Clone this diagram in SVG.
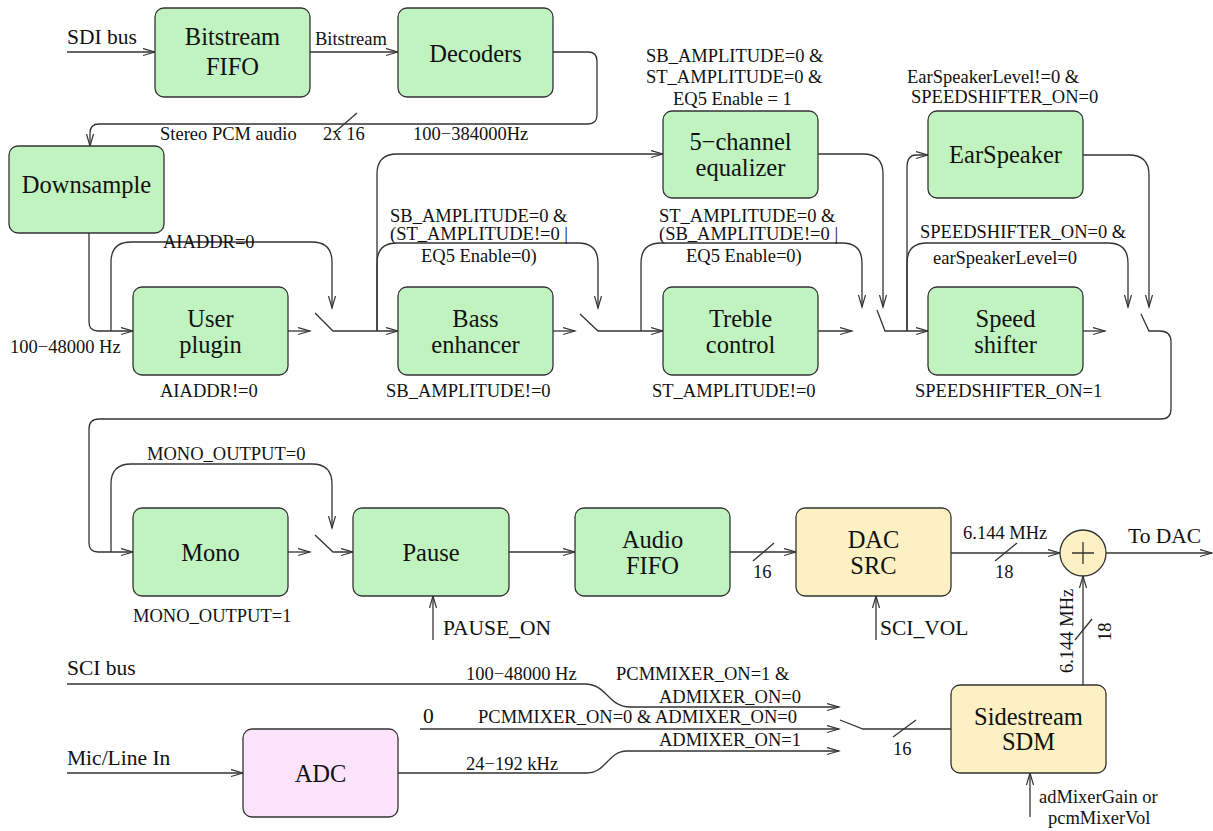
<svg xmlns="http://www.w3.org/2000/svg" width="1213" height="831" viewBox="0 0 1213 831">
<style>
.bx{stroke:#333;stroke-width:1.3}
.g{fill:#c0f3c0}.y{fill:#fdf1c3}.p{fill:#fde3fc}
.ln{fill:none;stroke:#333;stroke-width:1.3}
.a{marker-end:url(#ar)}
text{font-family:"Liberation Serif","Times New Roman",serif;fill:#111}
.t{font-family:"Liberation Serif","Times New Roman",serif;font-size:24.5px;text-anchor:middle}
.s{font-family:"Liberation Serif","Times New Roman",serif;font-size:18.5px}
.m{font-family:"Liberation Serif","Times New Roman",serif;font-size:21.5px}
</style>
<defs>
<marker id="ar" markerUnits="userSpaceOnUse" markerWidth="14" markerHeight="10" refX="12" refY="4" orient="auto">
<path d="M0,0.5 L12,4 L0,7.5" fill="none" stroke="#333" stroke-width="1.2"/>
</marker>
</defs>
<rect width="1213" height="831" fill="#fff"/>

<g id="connectors">
<path class="ln a" d="M67,52 H155"/>
<path class="ln a" d="M310,52 H398"/>
<path class="ln a" d="M553,52 H588 Q597,52 597,61 V115 Q597,124 588,124 H99 Q90,124 90,133 V146"/>
<path class="ln" d="M335,132 L357,113"/>
<path class="ln a" d="M89,233 V322 Q89,331 98,331 H133"/>
<path class="ln a" d="M111,331 V262 Q111,242 131,242 H312 Q332,242 332,262 V308"/>
<path class="ln a" d="M288,331 H310"/>
<path class="ln a" d="M315,313 L333,331 H398"/>
<path class="ln a" d="M377,331 V174 Q377,154 397,154 H663"/>
<path class="ln a" d="M377,331 V263 Q377,243 397,243 H578 Q598,243 598,263 V308"/>
<path class="ln a" d="M553,331 H575"/>
<path class="ln a" d="M580,314 L598,331 H663"/>
<path class="ln a" d="M641,331 V263 Q641,243 661,243 H842 Q862,243 862,263 V307"/>
<path class="ln a" d="M818,154 H863 Q883,154 883,174 V307"/>
<path class="ln a" d="M818,331 H852"/>
<path class="ln a" d="M877,310 L885,331 H928"/>
<path class="ln a" d="M907,331 V168 Q907,155 916,155 H928"/>
<path class="ln a" d="M907,331 V263 Q907,243 927,243 H1108 Q1128,243 1128,263 V307"/>
<path class="ln a" d="M1083,155 H1129 Q1149,155 1149,175 V307"/>
<path class="ln a" d="M1083,331 H1105"/>
<path class="ln a" d="M1141,314 L1149,331 H1160 Q1171,331 1171,342 V409 Q1171,419 1161,419 H99 Q89,419 89,429 V543 Q89,552 98,552 H133"/>
<path class="ln a" d="M111,552 V484 Q111,464 131,464 H312 Q332,464 332,484 V528"/>
<path class="ln a" d="M288,552 H310"/>
<path class="ln a" d="M315,535 L333,552 H353"/>
<path class="ln a" d="M433,640 V596"/>
<path class="ln a" d="M509,552 H575"/>
<path class="ln a" d="M730,552 H796"/>
<path class="ln" d="M753,561 L774,543"/>
<path class="ln a" d="M951,553 H1060"/>
<path class="ln" d="M995,561 L1017,543"/>
<path class="ln a" d="M1106,553 H1212"/>
<path class="ln a" d="M876,640 V596"/>
<path class="ln a" d="M1083,685 V576"/>
<path class="ln" d="M1075,640 L1092,619"/>
<path class="ln a" d="M1030,817 V773"/>
<path class="ln a" d="M67,684 H585 C607,684 608,707 630,707 H839"/>
<path class="ln a" d="M420,729 H839"/>
<path class="ln a" d="M398,773 H587 C606,773 608,751 627,751 H839"/>
<path class="ln" d="M840,720 L863,729 H951"/>
<path class="ln" d="M893,737 L916,720"/>
<path class="ln a" d="M67,773 H243"/>
</g>

<g id="bitstream-fifo"><rect class="bx g" x="155" y="8" width="155" height="89" rx="9"/>
<text class="t" x="232.5" y="45">Bitstream</text><text class="t" x="232.5" y="75">FIFO</text></g>
<g id="decoders"><rect class="bx g" x="398" y="8" width="155" height="89" rx="9"/>
<text class="t" x="475.5" y="62">Decoders</text></g>
<g id="downsample"><rect class="bx g" x="9" y="146" width="155" height="87" rx="9"/>
<text class="t" x="86.5" y="193">Downsample</text></g>
<g id="user-plugin"><rect class="bx g" x="133" y="287" width="155" height="88" rx="9"/>
<text class="t" x="210.5" y="327">User</text><text class="t" x="210.5" y="353">plugin</text></g>
<g id="bass-enhancer"><rect class="bx g" x="398" y="287" width="155" height="88" rx="9"/>
<text class="t" x="475.5" y="327">Bass</text><text class="t" x="475.5" y="353">enhancer</text></g>
<g id="equalizer"><rect class="bx g" x="663" y="111" width="155" height="87" rx="9"/>
<text class="t" x="740.5" y="150">5−channel</text><text class="t" x="740.5" y="176">equalizer</text></g>
<g id="treble-control"><rect class="bx g" x="663" y="287" width="155" height="88" rx="9"/>
<text class="t" x="740.5" y="327">Treble</text><text class="t" x="740.5" y="353">control</text></g>
<g id="earspeaker"><rect class="bx g" x="928" y="111" width="155" height="87" rx="9"/>
<text class="t" x="1005.5" y="163">EarSpeaker</text></g>
<g id="speed-shifter"><rect class="bx g" x="928" y="287" width="155" height="88" rx="9"/>
<text class="t" x="1005.5" y="327">Speed</text><text class="t" x="1005.5" y="353">shifter</text></g>
<g id="mono"><rect class="bx g" x="133" y="508" width="155" height="88" rx="9"/>
<text class="t" x="210.5" y="561">Mono</text></g>
<g id="pause"><rect class="bx g" x="353" y="508" width="156" height="88" rx="9"/>
<text class="t" x="431" y="561">Pause</text></g>
<g id="audio-fifo"><rect class="bx g" x="575" y="508" width="155" height="88" rx="9"/>
<text class="t" x="652.5" y="548">Audio</text><text class="t" x="652.5" y="574">FIFO</text></g>
<g id="dac-src"><rect class="bx y" x="796" y="508" width="155" height="88" rx="9"/>
<text class="t" x="873.5" y="548">DAC</text><text class="t" x="873.5" y="574">SRC</text></g>
<g id="adder"><circle class="bx y" cx="1083" cy="553" r="23"/>
<path class="ln" d="M1072,553 H1094 M1083,542 V564"/></g>
<g id="sidestream-sdm"><rect class="bx y" x="951" y="685" width="155" height="88" rx="9"/>
<text class="t" x="1028.5" y="725">Sidestream</text><text class="t" x="1028.5" y="750">SDM</text></g>
<g id="adc"><rect class="bx p" x="243" y="729" width="155" height="88" rx="9"/>
<text class="t" x="320.5" y="782">ADC</text></g>

<g id="labels">
<text class="m" x="67" y="44">SDI bus</text>
<text class="s" x="315" y="45">Bitstream</text>
<text class="s" x="160" y="140">Stereo PCM audio</text>
<text class="s" x="323" y="140">2x 16</text>
<text class="s" x="413" y="140">100−384000Hz</text>
<text class="s" x="646" y="62">SB_AMPLITUDE=0 &amp;</text>
<text class="s" x="646" y="83">ST_AMPLITUDE=0 &amp;</text>
<text class="s" x="673" y="105">EQ5 Enable = 1</text>
<text class="s" x="907" y="83">EarSpeakerLevel!=0 &amp;</text>
<text class="s" x="911" y="103">SPEEDSHIFTER_ON=0</text>
<text class="s" x="163" y="248">AIADDR=0</text>
<text class="s" x="10" y="353">100−48000 Hz</text>
<text class="s" x="160" y="397">AIADDR!=0</text>
<text class="s" x="390" y="222">SB_AMPLITUDE=0 &amp;</text>
<text class="s" x="390" y="240">(ST_AMPLITUDE!=0 |</text>
<text class="s" x="421" y="262">EQ5 Enable=0)</text>
<text class="s" x="386" y="397">SB_AMPLITUDE!=0</text>
<text class="s" x="659" y="222">ST_AMPLITUDE=0 &amp;</text>
<text class="s" x="659" y="240">(SB_AMPLITUDE!=0 |</text>
<text class="s" x="686" y="262">EQ5 Enable=0)</text>
<text class="s" x="652" y="397">ST_AMPLITUDE!=0</text>
<text class="s" x="920" y="238">SPEEDSHIFTER_ON=0 &amp;</text>
<text class="s" x="933" y="264">earSpeakerLevel=0</text>
<text class="s" x="915" y="397">SPEEDSHIFTER_ON=1</text>
<text class="s" x="147" y="460">MONO_OUTPUT=0</text>
<text class="s" x="133" y="622">MONO_OUTPUT=1</text>
<text class="m" x="443" y="635">PAUSE_ON</text>
<text class="s" x="753" y="578">16</text>
<text class="s" x="963" y="539">6.144 MHz</text>
<text class="s" x="995" y="578">18</text>
<text class="m" x="1128" y="543">To DAC</text>
<text class="m" x="880" y="635">SCI_VOL</text>
<text class="s" transform="translate(1073,673) rotate(-90)">6.144 MHz</text>
<text class="s" transform="translate(1111,641) rotate(-90)">18</text>
<text class="s" x="1039" y="803">adMixerGain or</text>
<text class="s" x="1048" y="824">pcmMixerVol</text>
<text class="m" x="67" y="675">SCI bus</text>
<text class="m" x="67" y="765">Mic/Line In</text>
<text class="s" x="466" y="680">100−48000 Hz</text>
<text class="s" x="616" y="680">PCMMIXER_ON=1 &amp;</text>
<text class="s" x="659" y="703">ADMIXER_ON=0</text>
<text class="m" x="423" y="723">0</text>
<text class="s" x="478" y="723">PCMMIXER_ON=0 &amp; ADMIXER_ON=0</text>
<text class="s" x="659" y="746">ADMIXER_ON=1</text>
<text class="s" x="466" y="770">24−192 kHz</text>
<text class="s" x="893" y="755">16</text>
</g>
</svg>
